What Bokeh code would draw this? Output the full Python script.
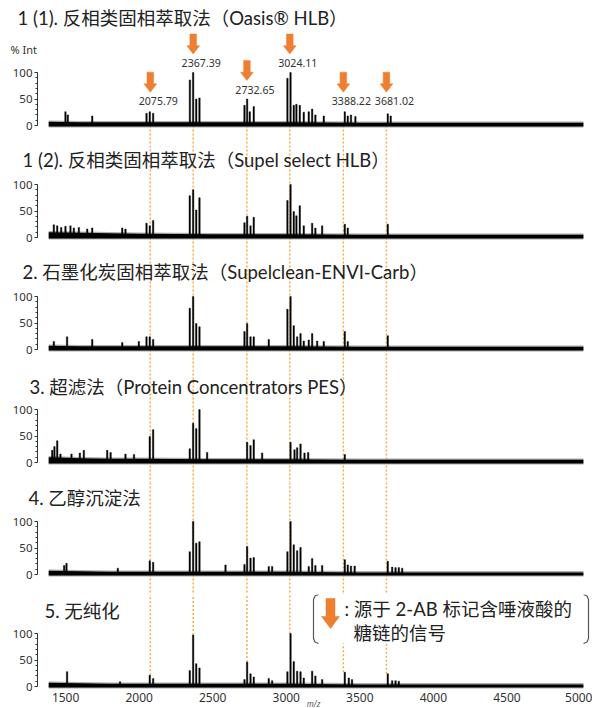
from bokeh.plotting import figure
from bokeh.layouts import column
from bokeh.models import Range1d, FixedTicker, Span, Label
from bokeh.core.properties import value
from bokeh.embed import file_html
from bokeh.resources import INLINE

# ---------------- data ----------------
labelled_mz = [2075.79, 2367.39, 2732.65, 3024.11, 3388.22, 3681.02]
labelled_txt = ["2075.79", "2367.39", "2732.65", "3024.11", "3388.22", "3681.02"]
x_ticks = [1500, 2000, 2500, 3000, 3500, 4000, 4500, 5000]
y_ticks = [0, 50, 100]
titles = [
    "1 (1). 反相类固相萃取法（Oasis® HLB）",
    "1 (2). 反相类固相萃取法（Supel select HLB）",
    "2. 石墨化炭固相萃取法（Supelclean-ENVI-Carb）",
    "3. 超滤法（Protein Concentrators PES）",
    "4. 乙醇沉淀法",
    "5. 无纯化",
]
legend_lines = [": 源于 2-AB 标记含唾液酸的", "糖链的信号"]

p1_mz = [1499, 1515, 1681, 2050, 2072, 2095, 2345, 2367, 2388, 2410, 2716, 2734, 2752, 2779,
         3008, 3029, 3051, 3069, 3092, 3119, 3153, 3176, 3198, 3255, 3398, 3418, 3440, 3470, 3690, 3710]
p1_int = [26, 20, 18, 23, 26, 23, 86, 100, 50, 52, 38, 50, 26, 36,
          89, 100, 38, 40, 38, 25, 26, 31, 20, 18, 26, 18, 20, 17, 22, 18]

p2_mz = [1420, 1443, 1470, 1499, 1533, 1556, 1590, 1647, 1681, 1885, 1907, 2050, 2072, 2095,
         2344, 2367, 2388, 2410, 2716, 2734, 2757, 2779, 3008, 3029, 3051, 3069, 3092, 3119,
         3176, 3198, 3244, 3398, 3418, 3690]
p2_int = [24, 22, 19, 21, 22, 18, 19, 16, 18, 18, 16, 27, 22, 32,
          79, 90, 52, 75, 28, 40, 22, 38, 70, 100, 49, 41, 60, 22,
          27, 18, 22, 25, 18, 25]

p3_mz = [1420, 1510, 1681, 1885, 1998, 2050, 2072, 2095, 2344, 2367, 2388, 2410, 2716, 2734,
         2757, 2779, 2881, 3008, 3029, 3051, 3074, 3097, 3119, 3153, 3176, 3210, 3255, 3398, 3418, 3690]
p3_int = [15, 24, 19, 13, 15, 24, 24, 19, 78, 100, 49, 43, 34, 49,
          24, 24, 19, 76, 100, 45, 24, 30, 16, 18, 30, 16, 15, 34, 15, 26]

p4_mz = [1409, 1424, 1443, 1465, 1540, 1597, 1624, 1783, 1806, 1907, 1965, 2072, 2095, 2344,
         2367, 2388, 2410, 2462, 2734, 2757, 2779, 2836, 3029, 3056, 3074, 3097, 3124, 3149, 3398]
p4_int = [23, 30, 41, 16, 16, 18, 23, 23, 19, 16, 15, 49, 62, 26,
          74, 64, 100, 19, 38, 32, 43, 18, 38, 24, 28, 35, 18, 19, 15]

p5_mz = [1490, 1506, 1855, 2072, 2095, 2344, 2367, 2388, 2410, 2587, 2716, 2734, 2757, 2779,
         2881, 2904, 3008, 3029, 3051, 3074, 3097, 3153, 3176, 3198, 3244, 3398, 3418, 3440,
         3465, 3690, 3720, 3743, 3765, 3788]
p5_int = [17, 21, 12, 26, 23, 43, 100, 59, 62, 18, 19, 53, 31, 32,
          15, 15, 43, 100, 56, 45, 51, 15, 30, 17, 17, 28, 18, 16,
          16, 25, 14, 13, 13, 12]

p6_mz = [1510, 1870, 2072, 2095, 2344, 2367, 2388, 2410, 2716, 2734, 2757, 2779, 2881, 2904,
         3008, 3029, 3051, 3074, 3097, 3119, 3176, 3198, 3244, 3398, 3425, 3447, 3690, 3720, 3743, 3765]
p6_int = [28, 9, 21, 15, 30, 97, 43, 35, 13, 46, 24, 18, 15, 11,
          28, 100, 47, 29, 28, 16, 29, 20, 13, 27, 16, 13, 24, 11, 11, 10]

noise_mz = [1385, 1600, 1800, 2000, 2500, 3000, 3500, 4000, 4500, 5020]
noise_lo = [-2, -2, -2, -2, -2, -2, -2, -2, -2, -2]
n1_hi = [7, 6, 6, 6, 6, 6, 5, 5, 5, 5]
n2_hi = [10, 9, 8, 7, 6, 6, 5, 5, 5, 5]
n3_hi = [7, 6, 6, 6, 6, 6, 5, 5, 5, 5]
n4_hi = [10, 8, 7, 7, 6, 6, 5, 5, 5, 5]
n5_hi = [7, 6, 5, 5, 5, 5, 4, 4, 4, 4]
n6_hi = [7, 6, 5, 5, 5, 5, 4, 4, 4, 4]

panels = [(p1_mz, p1_int, n1_hi), (p2_mz, p2_int, n2_hi), (p3_mz, p3_int, n3_hi),
          (p4_mz, p4_int, n4_hi), (p5_mz, p5_int, n5_hi), (p6_mz, p6_int, n6_hi)]

# ---------------- layout / style ----------------
W = 592
AXIS_PX = 37          # where the y axis line sits
XS = 0.1471           # px per m/z unit
X_REF_MZ, X_REF_PX = 2367.39, 192.7
UPP = 100 / 53.0      # intensity units per px
heights = [145, 112, 112, 113, 112, 114]
base_from_bottom = [20, 20, 20, 20, 20, 22]
title_rise = [108, 78, 78, 76, 77, 76]
title_x = [17, 22, 22, 29, 28, 44]
ORANGE = "#EE7F30"
DASH = "#F9A53F"
FONT_TITLE = "Lato, 'Noto Sans CJK SC'"
FONT_CJK = "Lato, 'Noto Sans CJK SC'"
FONT_LAT = "Noto Sans"


def mz_at(px):
    return X_REF_MZ + (px - X_REF_PX) / XS


X0, X1 = mz_at(0), mz_at(W)


def near_max(mzs, ints, m, tol=30):
    vals = [v for q, v in zip(mzs, ints) if abs(q - m) <= tol]
    return max(vals) if vals else 0


def arrow_patch(m, tip, shaft_half_px, head_half_px, head_len_px, shaft_len_px):
    aw = shaft_half_px / XS
    bw = head_half_px / XS
    head_top = tip + head_len_px * UPP
    shaft_top = head_top + shaft_len_px * UPP
    xs = [m - aw, m + aw, m + aw, m + bw, m, m - bw, m - aw]
    ys = [shaft_top, shaft_top, head_top, head_top, tip, head_top, head_top]
    return xs, ys


figs = []
for i, (mzs, ints, nhi) in enumerate(panels):
    last = i == len(panels) - 1
    H = heights[i]
    y0 = -base_from_bottom[i] * UPP
    y1 = y0 + H * UPP
    p = figure(width=W, height=H, output_backend="svg", toolbar_location=None,
               x_range=Range1d(X0, X1), y_range=Range1d(y0, y1),
               x_axis_location="below" if last else None,
               min_border_left=0, min_border_right=0, min_border_top=0, min_border_bottom=0)
    p.outline_line_color = None
    p.grid.grid_line_color = None
    p.background_fill_color = "white"
    p.border_fill_color = "white"

    # dashed guide lines
    if i == 0:
        p.segment(x0=labelled_mz, y0=[0] * 6, x1=labelled_mz, y1=[y0] * 6,
                  line_color=DASH, line_width=1.4, line_dash="2 2")
    elif not last:
        for m in labelled_mz:
            p.add_layout(Span(location=m, dimension="height", line_color=DASH,
                              line_width=1.4, line_dash="2 2", level="underlay"))
    else:
        ends = [near_max(mzs, ints, m) for m in labelled_mz]
        p.segment(x0=labelled_mz, y0=ends, x1=labelled_mz, y1=[y1] * 6,
                  line_color=DASH, line_width=1.4, line_dash="2 2")

    # spectrum: noise band + peaks
    p.varea(x=noise_mz, y1=[v - 2 for v in noise_lo], y2=[v + 2.5 for v in nhi],
            fill_color="#8a8a8a", fill_alpha=0.7)
    p.varea(x=noise_mz, y1=noise_lo, y2=nhi, fill_color="black")
    p.vbar(x=mzs, top=ints, bottom=0, width=10, fill_color="black",
           line_color="black", line_width=0.4)

    # y axis, drawn inside the frame at a fixed x
    ax = p.yaxis[0]
    ax.fixed_location = mz_at(AXIS_PX)
    ax.ticker = FixedTicker(ticks=y_ticks, minor_ticks=list(range(0, 101, 10)))
    ax.bounds = (0, 100)
    ax.axis_line_color = "#333333"
    ax.axis_line_width = 1
    ax.major_tick_out = 3
    ax.major_tick_in = 0
    ax.minor_tick_out = 2
    ax.minor_tick_in = 0
    ax.major_tick_line_color = "#333333"
    ax.minor_tick_line_color = "#333333"
    ax.major_label_text_font = FONT_LAT
    ax.major_label_text_font_size = "11.5px"
    ax.major_label_text_color = "#333333"
    ax.major_label_standoff = 2

    # panel title (screen units from the frame's bottom-left corner)
    p.add_layout(Label(x=title_x[i], y=base_from_bottom[i] + title_rise[i],
                       x_units="screen", y_units="screen", text=titles[i],
                       text_font=FONT_TITLE, text_font_size="18.5px", text_color="#222222",
                       text_baseline="middle", text_align="left"))

    if i == 0:
        p.add_layout(Label(x=10, y=base_from_bottom[i] + (125 - 49),
                           x_units="screen", y_units="screen", text="% Int",
                           text_font=FONT_LAT, text_font_size="11px", text_color="#333333",
                           text_baseline="middle", text_align="left"))
        hs = [max(near_max(mzs, ints, m), 28) for m in labelled_mz]
        p.text(x=labelled_mz, y=[h + 9.5 * UPP for h in hs], text=labelled_txt,
               text_font=value(FONT_LAT), text_font_size="10.6px", text_color="#333333",
               text_align="center", text_baseline="middle", x_offset=8)
        axs, ays = [], []
        for m, h in zip(labelled_mz, hs):
            xs, ys = arrow_patch(m, h + 18.5 * UPP, 3.3, 6.4, 8.3, 11.7)
            axs.append(xs)
            ays.append(ys)
        p.patches(xs=axs, ys=ays, fill_color=ORANGE, line_color=ORANGE, line_width=0.5)

    if last:
        def yd(py):
            return (686 - py) * UPP

        xa = p.xaxis[0]
        xa.fixed_location = yd(691)
        xa.ticker = FixedTicker(ticks=x_ticks)
        xa.axis_line_color = None
        xa.major_tick_out = 0
        xa.major_tick_in = 0
        xa.minor_tick_line_color = None
        xa.major_label_text_font = FONT_LAT
        xa.major_label_text_font_size = "12px"
        xa.major_label_text_color = "#333333"
        xa.major_label_standoff = 1
        p.add_layout(Label(x=313, y=708 - 703, x_units="screen", y_units="screen",
                           text="m/z", text_font=FONT_LAT, text_font_size="8px",
                           text_font_style="italic", text_color="#555555",
                           text_baseline="middle", text_align="center"))

        # legend box (white) with bracket sides
        p.quad(left=[mz_at(313)], right=[mz_at(588)], top=[yd(594)], bottom=[yd(643)],
               fill_color="white", line_color=None)
        lx = [mz_at(318), mz_at(314.5), mz_at(313), mz_at(313), mz_at(314.5), mz_at(318)]
        rx = [mz_at(583), mz_at(586.5), mz_at(588), mz_at(588), mz_at(586.5), mz_at(583)]
        by = [yd(594), yd(595.5), yd(599), yd(638), yd(641.5), yd(643)]
        p.line(x=lx, y=by, line_color="#555555", line_width=1.2)
        p.line(x=rx, y=by, line_color="#555555", line_width=1.2)
        xs, ys = arrow_patch(mz_at(330), yd(628), 4.5, 9, 12, 18)
        p.patch(x=xs, y=ys, fill_color=ORANGE, line_color=ORANGE, line_width=0.5)
        p.text(x=[mz_at(344), mz_at(353)], y=[yd(608), yd(632)], text=legend_lines,
               text_font=value(FONT_CJK), text_font_size="18.5px", text_color="#222222",
               text_align="left", text_baseline="middle")

    figs.append(p)

layout = column(*figs, spacing=0)
open("out.html", "w").write(file_html(layout, INLINE))
